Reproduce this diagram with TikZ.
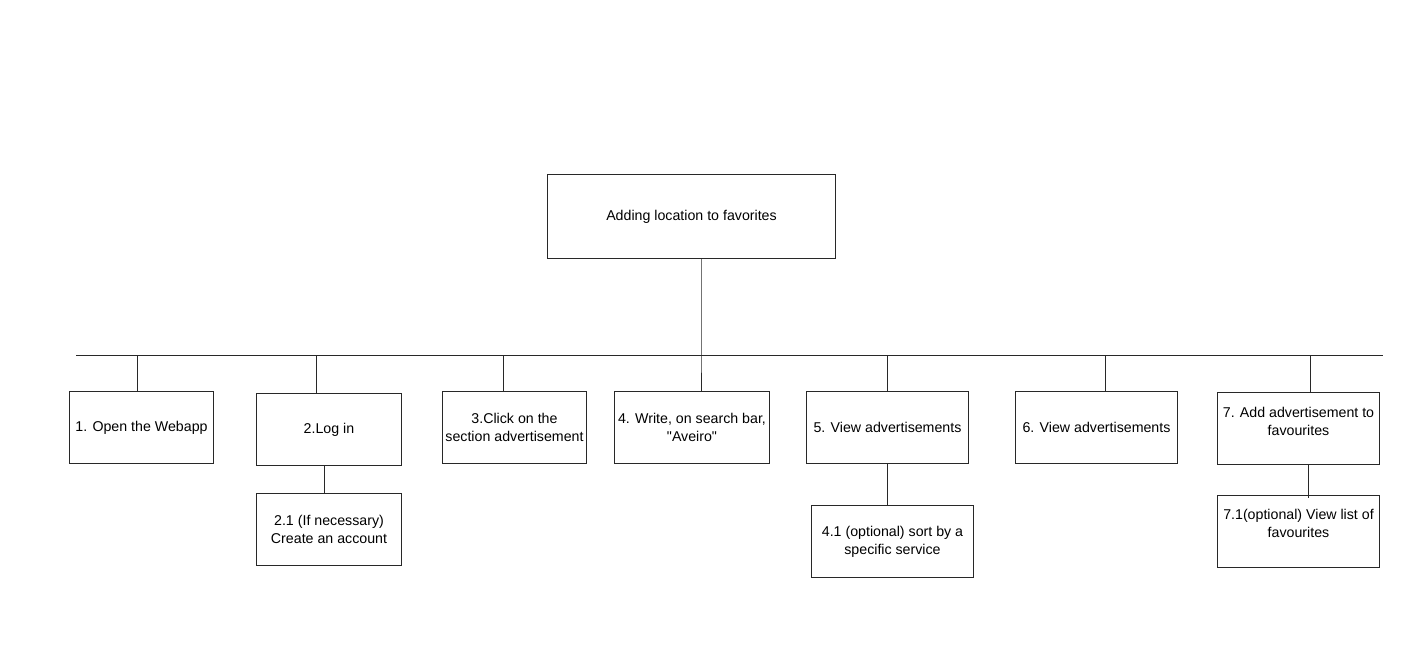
\documentclass[tikz,border=0pt]{standalone}
\usepackage{fontspec}
\setmainfont{Liberation Sans}[Ligatures=TeXOff]
\definecolor{linec}{RGB}{40,40,40}
\begin{document}
\begin{tikzpicture}[x=1pt,y=-1pt,line width=1pt,
  box/.style={draw=linec, fill=white, rectangle, anchor=north west, inner sep=2pt,
    align=center, font=\fontsize{14.2}{18}\selectfont, text=black},
  wire/.style={draw=linec, line width=1pt}]
\useasboundingbox[fill=white] (0,0) rectangle (1428,646);

% root task
\node[box, minimum width=288, minimum height=84] (root) at (547,174) {Adding location to favorites};

% steps
\node[box, minimum width=144, minimum height=72] (b1) at (69,391) {1. Open the Webapp};
\node[box, minimum width=145, minimum height=72] (b2) at (256,393) {2.Log in};
\node[box, minimum width=145, minimum height=72] (b21) at (256,493) {2.1 (If necessary)\\Create an account};
\node[box, minimum width=144, minimum height=72] (b3) at (442,391) {3.Click on the\\section advertisement};
\node[box, minimum width=155, minimum height=72] (b4) at (614,391) {4. Write, on search bar,\\"Aveiro"};
\node[box, minimum width=162, minimum height=72] (b5) at (806,391) {5. View advertisements};
\node[box, minimum width=162, minimum height=72] (b41) at (811,505) {4.1 (optional) sort by a\\specific service};
\node[box, minimum width=162, minimum height=72] (b6) at (1015,391) {6. View advertisements};
\node[box, minimum width=162, minimum height=72, label={[font=\fontsize{14.2}{18}\selectfont, align=center, yshift=7]center:7. Add advertisement to\\favourites}] (b7) at (1217,392) {};
\node[box, minimum width=162, minimum height=72, label={[font=\fontsize{14.2}{18}\selectfont, align=center, yshift=8]center:7.1(optional) View list of\\favourites}] (b71) at (1217,495) {};

% horizontal bus
\coordinate (busL) at (76,355);
\coordinate (busR) at (1383,355);
\draw[wire] (busL) -- (busR);

% junctions on the bus
\coordinate (j0) at (701,355);
\coordinate (j1) at (137,355);
\coordinate (j2) at (316,355);
\coordinate (j3) at (503,355);
\coordinate (j5) at (887,355);
\coordinate (j6) at (1105,355);
\coordinate (j7) at (1310,355);

\draw[wire] (root.south -| j0) -- (j0) -- (j0 |- b4.north);
\draw[wire] (j1) -- (j1 |- b1.north);
\draw[wire] (j2) -- (j2 |- b2.north);
\draw[wire] (j3) -- (j3 |- b3.north);
\draw[wire] (j5) -- (j5 |- b5.north);
\draw[wire] (j6) -- (j6 |- b6.north);
\draw[wire] (j7) -- (j7 |- b7.north);

% sub-steps
\coordinate (s2) at (324,0);
\coordinate (s5) at (887,0);
\coordinate (s7) at (1308,0);
\draw[wire] (s2 |- b2.south) -- (s2 |- b21.north);
\draw[wire] (s5 |- b5.south) -- (s5 |- b41.north);
\draw[wire] (s7 |- b7.south) -- ([yshift=-3]s7 |- b71.north);
\end{tikzpicture}
\end{document}
